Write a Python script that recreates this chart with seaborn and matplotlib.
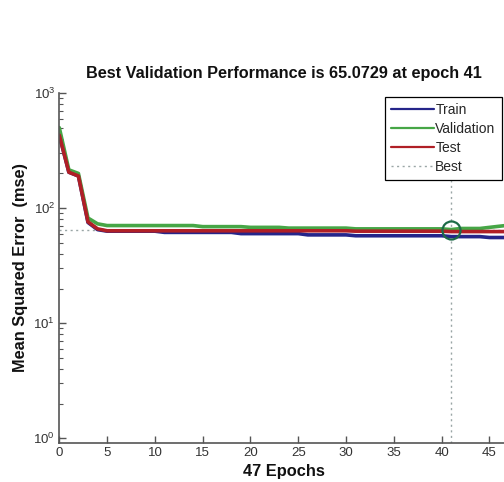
import numpy as np
import pandas as pd
import matplotlib
matplotlib.use("Agg")
import matplotlib.pyplot as plt
import seaborn as sns

# ---- data ----
epochs = list(range(48))
train = [430, 205, 190, 75, 65] + [63.0] * 6 + [61.5] * 8 + [60.0] * 7 + [58.5] * 5 + [57.5] * 10 + [56.5] * 4 + [55.5] * 3
validation = [500, 215, 200, 82, 73] + [70.5] * 10 + [69.0] * 5 + [68.0] * 4 + [67.0] * 7 + [66.0] * 10 + [65.0729] + [66.5] * 3 + [68.0, 69.5, 71.0]
test = [430, 205, 190, 76, 66] + [63.5] * 26 + [63.0] * 10 + [62.5] * 7
series_names = ["Train", "Validation", "Test"]
best_epoch = 41
best_perf = 65.0729
xticks = [0, 5, 10, 15, 20, 25, 30, 35, 40, 45]
title_text = "Best Validation Performance is 65.0729 at epoch 41"
xlabel_text = "47 Epochs"
ylabel_text = "Mean Squared Error  (mse)"

colors = {"Train": "#25258a", "Validation": "#46a646", "Test": "#b01f26"}

sns.set_style("ticks")
plt.rcParams["font.family"] = ["Liberation Sans", "DejaVu Sans"]
plt.rcParams["mathtext.fontset"] = "custom"
plt.rcParams["mathtext.rm"] = "Liberation Sans"

df = pd.DataFrame({
    "epoch": epochs * 3,
    "mse": train + validation + test,
    "series": ["Train"] * len(epochs) + ["Validation"] * len(epochs) + ["Test"] * len(epochs),
})

fig = plt.figure(figsize=(5.04, 4.82), dpi=100)
ax = fig.add_axes([59.3 / 504, 39.3 / 482, 449.3 / 504, 349.7 / 482])

for name in series_names:
    sub = df[df["series"] == name]
    sns.lineplot(data=sub, x="epoch", y="mse", ax=ax, color=colors[name],
                 linewidth=2.6, label=name, estimator=None)

ax.axvline(best_epoch, color="#9aa6a6", linestyle=(0, (1.5, 2.5)), linewidth=1.0, label="Best", zorder=1)
ax.axhline(best_perf, color="#9aa6a6", linestyle=(0, (1.5, 2.5)), linewidth=1.0, zorder=1)
ax.plot([best_epoch], [best_perf], marker="o", markersize=13, markerfacecolor="none",
        markeredgecolor="#1d6b48", markeredgewidth=1.6, linestyle="none", label="_nolegend_", zorder=5)

ax.set_yscale("log")
ax.set_xlim(0, 47)
ax.set_ylim(0.915, 1000)
ax.set_xticks(xticks)
ax.set_xticklabels([str(t) for t in xticks])

for s in ["top", "right"]:
    ax.spines[s].set_visible(False)
for s in ["left", "bottom"]:
    ax.spines[s].set_color("#555555")
    ax.spines[s].set_linewidth(1.2)

ax.tick_params(axis="both", which="major", direction="in", length=5, width=1.0,
               color="#555555", labelcolor="#333333", labelsize=9.5, pad=3)
ax.tick_params(axis="y", which="minor", direction="in", length=3, width=0.8, color="#555555")
ax.tick_params(axis="x", which="minor", bottom=False)

ax.set_title(title_text, fontsize=11.7, fontweight="bold", pad=11, color="#111111")
ax.set_xlabel(xlabel_text, fontsize=11.8, fontweight="bold", labelpad=3.5, color="#111111")
ax.set_ylabel(ylabel_text, fontsize=11.8, fontweight="bold", labelpad=4, color="#111111")

leg = ax.legend(loc="upper right", bbox_to_anchor=(0.985, 0.989), borderaxespad=0,
                fancybox=False, framealpha=1, edgecolor="black", fontsize=10,
                handlelength=3.1, handletextpad=0.1, labelspacing=0.35, borderpad=0.45)
leg.get_frame().set_linewidth(0.9)
for line in leg.get_lines()[:3]:
    line.set_linewidth(1.6)

fig.savefig("out.png", dpi=100)
